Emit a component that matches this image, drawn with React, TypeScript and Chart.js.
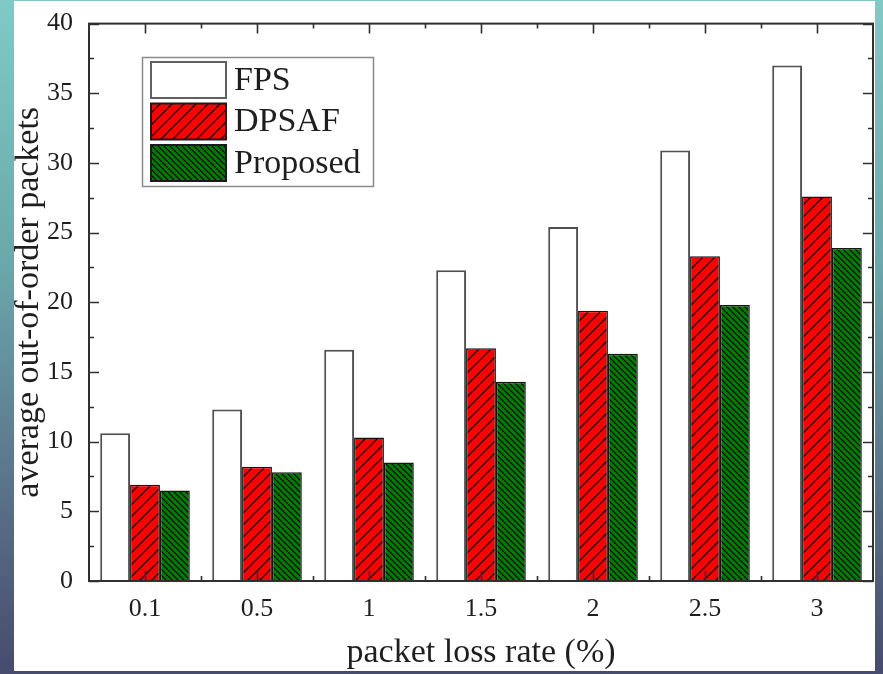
import { useEffect, useRef } from "react";
import { Chart, registerables } from "chart.js";

Chart.register(...registerables);

const categories = ["0.1", "0.5", "1", "1.5", "2", "2.5", "3"];
const seriesNames = ["FPS", "DPSAF", "Proposed"];
const fpsValues = [10.6, 12.3, 16.6, 22.3, 25.4, 30.9, 37.0];
const dpsafValues = [6.9, 8.2, 10.3, 16.7, 19.4, 23.3, 27.6];
const proposedValues = [6.5, 7.8, 8.5, 14.3, 16.3, 19.8, 23.9];
const yMin = 0;
const yMax = 40;
const yMajorStep = 5;
const yMinorStep = 2.5;

const FONT = "'Liberation Serif', 'Times New Roman', serif";
const TEXT = "#1e1e1e";

function makeHatch(bg: string, size: number, dir: "/" | "\\", lw: number) {
  const c = document.createElement("canvas");
  c.width = size;
  c.height = size;
  const g = c.getContext("2d")!;
  g.fillStyle = bg;
  g.fillRect(0, 0, size, size);
  g.strokeStyle = "#000";
  g.lineWidth = lw;
  g.beginPath();
  for (const o of [-size, 0, size]) {
    if (dir === "/") {
      g.moveTo(o, size);
      g.lineTo(o + size, 0);
    } else {
      g.moveTo(o, 0);
      g.lineTo(o + size, size);
    }
  }
  g.stroke();
  return g.createPattern(c, "repeat")!;
}

export default function App() {
  const ref = useRef<HTMLCanvasElement | null>(null);

  useEffect(() => {
    if (!ref.current) return;
    const redHatch = makeHatch("#ff0000", 12, "/", 1.3);
    const greenHatch = makeHatch("#007a00", 6, "\\", 1.1);

    const fills = ["#ffffff", redHatch, greenHatch];
    const borders = ["#505050", "#151515", "#151515"];

    const decor = {
      id: "decor",
      beforeDraw(chart: any) {
        const ctx = chart.ctx;
        ctx.save();
        ctx.fillStyle = "#ffffff";
        ctx.fillRect(14, 1, 861, 670);
        ctx.restore();
      },
      afterDatasetsDraw(chart: any) {
        const ctx = chart.ctx;
        const a = chart.chartArea;
        const xs = chart.scales.x;
        const ys = chart.scales.y;
        ctx.save();
        ctx.strokeStyle = "#303030";
        ctx.lineWidth = 1.6;
        ctx.beginPath();
        for (let v = yMin; v <= yMax + 1e-9; v += yMinorStep) {
          const py = Math.round(ys.getPixelForValue(v)) + 0.5;
          const len = Math.abs(v % yMajorStep) < 1e-9 ? 10 : 5;
          ctx.moveTo(a.left, py);
          ctx.lineTo(a.left + len, py);
          ctx.moveTo(a.right, py);
          ctx.lineTo(a.right - len, py);
        }
        for (let i = 0; i < categories.length; i++) {
          const px = Math.round(xs.getPixelForValue(i)) + 0.5;
          ctx.moveTo(px, a.bottom);
          ctx.lineTo(px, a.bottom - 10);
          ctx.moveTo(px, a.top);
          ctx.lineTo(px, a.top + 10);
        }
        for (let i = 0; i < categories.length - 1; i++) {
          const px = Math.round((xs.getPixelForValue(i) + xs.getPixelForValue(i + 1)) / 2) + 0.5;
          ctx.moveTo(px, a.bottom);
          ctx.lineTo(px, a.bottom - 5);
          ctx.moveTo(px, a.top);
          ctx.lineTo(px, a.top + 5);
        }
        ctx.stroke();
        ctx.lineWidth = 2;
        ctx.strokeStyle = "#303030";
        ctx.strokeRect(a.left, a.top, a.right - a.left, a.bottom - a.top);
        ctx.restore();
      },
      afterDraw(chart: any) {
        const ctx = chart.ctx;
        ctx.save();
        ctx.strokeStyle = "#8a8a8a";
        ctx.lineWidth = 1.5;
        ctx.strokeRect(142.5, 57.5, 231, 129);
        const patchX = 151;
        const patchW = 75;
        const patchH = 36;
        const patchYs = [62, 103.5, 145];
        ctx.font = `34px ${FONT}`;
        ctx.textBaseline = "middle";
        ctx.textAlign = "left";
        for (let i = 0; i < seriesNames.length; i++) {
          const py = patchYs[i];
          ctx.fillStyle = fills[i] as any;
          ctx.fillRect(patchX, py, patchW, patchH);
          ctx.strokeStyle = i === 0 ? "#606060" : "#1a1a1a";
          ctx.lineWidth = 2;
          ctx.strokeRect(patchX, py, patchW, patchH);
          ctx.fillStyle = TEXT;
          ctx.fillText(seriesNames[i], 234, py + patchH / 2 + 1);
        }
        ctx.restore();
      },
    };

    const chart = new Chart(ref.current, {
      type: "bar",
      data: {
        labels: categories,
        datasets: [
          {
            label: seriesNames[0],
            data: fpsValues,
            backgroundColor: fills[0],
            borderColor: borders[0],
            borderWidth: 2,
          },
          {
            label: seriesNames[1],
            data: dpsafValues,
            backgroundColor: fills[1] as any,
            borderColor: borders[1],
            borderWidth: 1.5,
          },
          {
            label: seriesNames[2],
            data: proposedValues,
            backgroundColor: fills[2] as any,
            borderColor: borders[2],
            borderWidth: 1.5,
          },
        ],
      },
      options: {
        animation: false,
        responsive: false,
        devicePixelRatio: 1,
        layout: { padding: { top: 11, right: 10, bottom: 0, left: 0 } },
        datasets: { bar: { categoryPercentage: 0.8, barPercentage: 1.0 } },
        plugins: {
          legend: { display: false },
          tooltip: { enabled: false },
        },
        scales: {
          x: {
            type: "category",
            offset: true,
            grid: { display: false },
            border: { display: false },
            ticks: {
              font: { family: FONT, size: 26 },
              color: TEXT,
              padding: 5,
              maxRotation: 0,
            },
            title: {
              display: true,
              text: "packet loss rate (%)",
              font: { family: FONT, size: 34 },
              color: TEXT,
              padding: { top: 0, bottom: 1 },
            },
            afterFit(s: any) {
              s.height = 93;
            },
          },
          y: {
            min: yMin,
            max: yMax,
            grid: { display: false },
            border: { display: false },
            ticks: {
              stepSize: yMajorStep,
              font: { family: FONT, size: 26 },
              color: TEXT,
              padding: 8,
            },
            title: {
              display: true,
              text: "average out-of-order packets",
              font: { family: FONT, size: 34 },
              color: TEXT,
              padding: { top: 9, bottom: 0 },
            },
            afterFit(s: any) {
              s.width = 89;
            },
          },
        },
      },
      plugins: [decor],
    });
    return () => chart.destroy();
  }, []);

  return (
    <div
      style={{
        position: "fixed",
        left: 0,
        top: 0,
        width: 883,
        height: 674,
        background:
          "linear-gradient(180deg, #80cac6 0%, #6ba6aa 40%, #586f86 75%, #474b6d 100%)",
      }}
    >
      <canvas ref={ref} width={883} height={674} style={{ display: "block", width: 883, height: 674 }} />
    </div>
  );
}
